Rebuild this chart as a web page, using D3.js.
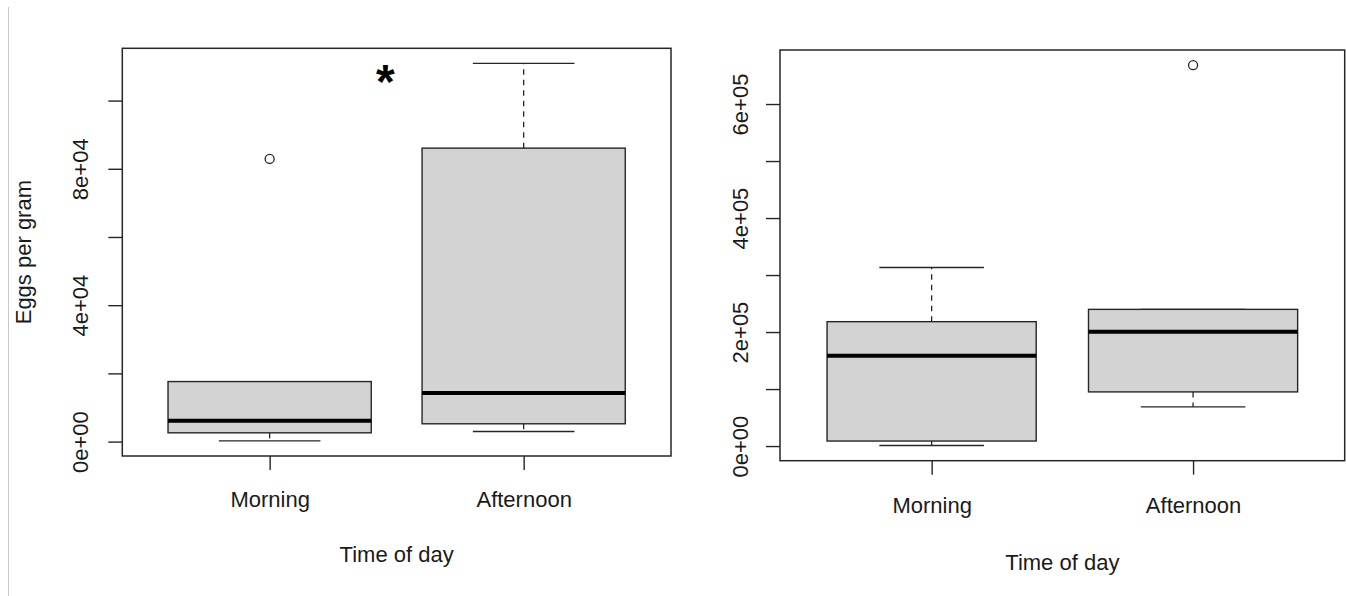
<!DOCTYPE html>
<html>
	<head>
		<meta charset="utf-8" />
		<title>Eggs per gram by time of day</title>
		<style>
			body { margin: 0; background: #fff; }
			#graph svg text { font-family: "Liberation Sans", Arial, sans-serif; fill: #1a1a1a; }
		</style>
	</head>
	<body>
		<div id="graph"></div>
		<script src="https://cdnjs.cloudflare.com/ajax/libs/d3/7.8.5/d3.min.js"></script>
		<script>
			// groups on the x axis
			var groups = ["Morning", "Afternoon"];

			// [lower whisker, Q1, median, Q3, upper whisker] per group
			var leftStats = [
				[200, 2570, 6100, 17600, 17600],
				[2950, 5220, 14250, 86050, 110900]
			];
			var leftOutliers = [[82900], []];
			var leftTicks = [0, 20000, 40000, 60000, 80000, 100000];
			var leftTickLabels = ["0e+00", "", "4e+04", "", "8e+04", ""];

			var rightStats = [
				[1000, 8800, 158400, 218200, 313200],
				[68600, 95000, 200600, 239800, 239800]
			];
			var rightOutliers = [[], [668100]];
			var rightTicks = [0, 100000, 200000, 300000, 400000, 500000, 600000];
			var rightTickLabels = ["0e+00", "", "2e+05", "", "4e+05", "", "6e+05"];

			var xLabel = "Time of day";
			var yLabel = "Eggs per gram";

			var width = 1346, height = 596;
			var svg = d3.select("#graph").append("svg")
				.attr("width", width)
				.attr("height", height);

			// thin grey rule on the far left of the picture
			svg.append("line")
				.attr("x1", 8.5).attr("x2", 8.5)
				.attr("y1", 7).attr("y2", height)
				.attr("stroke", "#c8c8c8")
				.attr("stroke-width", 1);

			drawPanel({
				left: 122.3, right: 671, top: 48.3, bottom: 456,
				stats: leftStats, outliers: leftOutliers,
				ticks: leftTicks, tickLabels: leftTickLabels,
				catOffset: 50.7, xlabOffset: 105.7, ylabel: yLabel, ylabX: 31,
				labGap: 34.5,
				star: {x: 1.455, y: 108800}
			});
			drawPanel({
				left: 780, right: 1344.7, top: 50, bottom: 460.7,
				stats: rightStats, outliers: rightOutliers,
				ticks: rightTicks, tickLabels: rightTickLabels,
				catOffset: 52.6, xlabOffset: 109.3,
				labGap: 32.5
			});

			function drawPanel(p) {
				var g = svg.append("g");
				var line = "#262626";

				// R-style 4% extension of the data range
				var all = [];
				p.stats.forEach(function(s) { all = all.concat(s); });
				p.outliers.forEach(function(o) { all = all.concat(o); });
				var lo = d3.min(all), hi = d3.max(all), pad = (hi - lo) * 0.04;

				var y = d3.scaleLinear().domain([lo - pad, hi + pad]).range([p.bottom, p.top]);
				var x = d3.scaleLinear().domain([0.42, groups.length + 0.58]).range([p.left, p.right]);

				// boxes
				var box = g.selectAll("g.box")
					.data(p.stats)
					.enter().append("g").attr("class", "box");

				// whiskers (dashed)
				box.append("line")
					.attr("x1", function(d, i) { return x(i + 1); })
					.attr("x2", function(d, i) { return x(i + 1); })
					.attr("y1", function(d) { return y(d[3]); })
					.attr("y2", function(d) { return y(d[4]); })
					.attr("stroke", line).attr("stroke-width", 1.3)
					.attr("stroke-dasharray", "5.5,5");
				box.append("line")
					.attr("x1", function(d, i) { return x(i + 1); })
					.attr("x2", function(d, i) { return x(i + 1); })
					.attr("y1", function(d) { return y(d[1]); })
					.attr("y2", function(d) { return y(d[0]); })
					.attr("stroke", line).attr("stroke-width", 1.3)
					.attr("stroke-dasharray", "5.5,5");

				// staples
				[0, 4].forEach(function(k) {
					box.append("line")
						.attr("x1", function(d, i) { return x(i + 1 - 0.2); })
						.attr("x2", function(d, i) { return x(i + 1 + 0.2); })
						.attr("y1", function(d) { return y(d[k]); })
						.attr("y2", function(d) { return y(d[k]); })
						.attr("stroke", line).attr("stroke-width", 1.3);
				});

				box.append("rect")
					.attr("x", function(d, i) { return x(i + 1 - 0.4); })
					.attr("width", function(d, i) { return x(i + 1.4) - x(i + 0.6); })
					.attr("y", function(d) { return y(d[3]); })
					.attr("height", function(d) { return y(d[1]) - y(d[3]); })
					.attr("fill", "#d3d3d3")
					.attr("stroke", line).attr("stroke-width", 1.4);

				box.append("line")
					.attr("x1", function(d, i) { return x(i + 1 - 0.4); })
					.attr("x2", function(d, i) { return x(i + 1 + 0.4); })
					.attr("y1", function(d) { return y(d[2]); })
					.attr("y2", function(d) { return y(d[2]); })
					.attr("stroke", "#000").attr("stroke-width", 4);

				// outliers
				p.outliers.forEach(function(o, i) {
					g.selectAll(null)
						.data(o)
						.enter().append("circle")
						.attr("cx", x(i + 1))
						.attr("cy", function(d) { return y(d); })
						.attr("r", 4.5)
						.attr("fill", "none")
						.attr("stroke", line).attr("stroke-width", 1.3);
				});

				// frame
				g.append("rect")
					.attr("x", p.left).attr("y", p.top)
					.attr("width", p.right - p.left).attr("height", p.bottom - p.top)
					.attr("fill", "none")
					.attr("stroke", line).attr("stroke-width", 1.5);

				// y axis
				var yAxis = d3.axisLeft(y)
					.tickValues(p.ticks)
					.tickSize(14)
					.tickFormat(function(d, i) { return p.tickLabels[i]; });
				var ya = g.append("g")
					.attr("transform", "translate(" + p.left + ",0)")
					.call(yAxis);
				ya.select(".domain").remove();
				ya.selectAll(".tick line").attr("stroke", line).attr("stroke-width", 1.4);
				ya.selectAll(".tick text")
					.attr("x", 0).attr("y", 0).attr("dy", null)
					.attr("transform", "translate(" + (-p.labGap) + ",0) rotate(-90)")
					.attr("text-anchor", "middle")
					.style("font-size", "22px")
					.style("fill", "#1a1a1a");

				// x axis
				var xAxis = d3.axisBottom(x)
					.tickValues(groups.map(function(d, i) { return i + 1; }))
					.tickSize(14)
					.tickFormat(function(d) { return groups[d - 1]; });
				var xa = g.append("g")
					.attr("transform", "translate(0," + p.bottom + ")")
					.call(xAxis);
				xa.select(".domain").remove();
				xa.selectAll(".tick line").attr("stroke", line).attr("stroke-width", 1.4);
				xa.selectAll(".tick text")
					.attr("y", p.catOffset).attr("dy", null)
					.style("font-size", "22px")
					.style("fill", "#1a1a1a");

				g.append("text")
					.attr("x", (p.left + p.right) / 2)
					.attr("y", p.bottom + p.xlabOffset)
					.attr("text-anchor", "middle")
					.style("font-size", "22px")
					.text(xLabel);

				if (p.ylabel) {
					g.append("text")
						.attr("transform", "translate(" + p.ylabX + "," + (p.top + p.bottom) / 2 + ") rotate(-90)")
						.attr("text-anchor", "middle")
						.style("font-size", "22px")
						.text(p.ylabel);
				}

				if (p.star) {
					var fs = 48;
					g.append("text")
						.attr("x", x(p.star.x))
						.attr("y", y(p.star.y) + fs * 0.58)
						.attr("text-anchor", "middle")
						.style("font-size", fs + "px")
						.style("font-weight", "bold")
						.style("fill", "#000")
						.text("*");
				}
			}
		</script>
	</body>
</html>
